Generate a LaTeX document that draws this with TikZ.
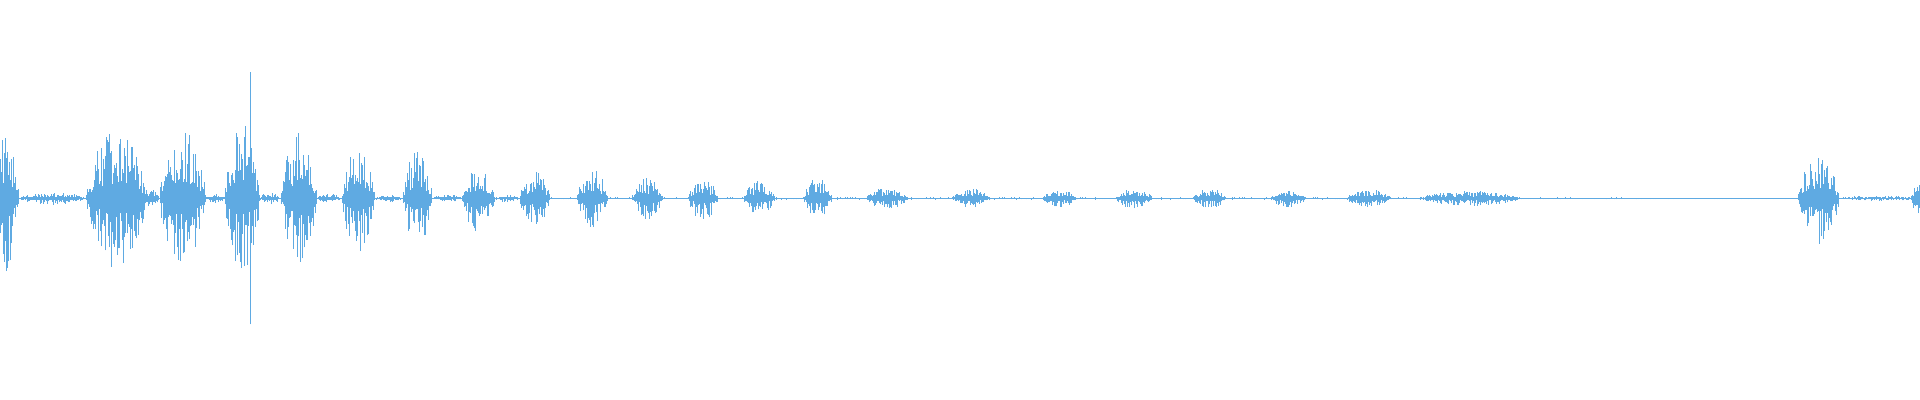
\documentclass[tikz,border=0pt]{standalone}
\definecolor{wave}{RGB}{95,170,226}
\tikzset{wv/.style={draw=wave,line width=0.3pt}}
\newcommand{\burst}[4]{% x0 x1 amp step
  \pgfmathsetmacro\bnx{#1+#4}
  \foreach \i in {#1,\bnx,...,#2}{
    \pgfmathsetmacro\bf{(\i-#1)/(#2-#1)}
    \pgfmathsetmacro\bs{sin(180*\bf)^0.7}
    \pgfmathsetmacro\ht{#3*\bs*(0.2+0.8*rnd^2)+0.3}
    \pgfmathsetmacro\hb{#3*\bs*(0.2+0.8*rnd^2)+0.3}
    \draw[wv] (\i,164.6-\hb) -- (\i,164.6+\ht);
  }}
\begin{document}
\begin{tikzpicture}[x=1.2245pt,y=1.2245pt]
\useasboundingbox (0,0) rectangle (1568,326.6);
\pgfmathsetseed{7}
\draw[wv] (0,164.6) -- (1568,164.6);
\burst{0.01}{1568}{0.8}{2}
\burst{-8}{15}{62}{0.5}
\burst{15}{70}{5}{0.7}
\burst{70}{120}{58}{0.5}
\burst{118}{130}{8}{0.6}
\burst{130}{168}{56}{0.5}
\burst{168}{183}{4}{0.7}
\burst{183}{212}{62}{0.5}
\draw[wv] (204,164.6-103) -- (204,164.6+103);
\burst{212}{228}{5}{0.7}
\burst{229}{259}{55}{0.5}
\burst{259}{278}{4}{0.7}
\burst{279}{306}{45}{0.5}
\burst{306}{328}{3}{0.7}
\burst{329}{353}{40}{0.5}
\burst{353}{377}{3}{0.7}
\burst{377}{404}{28}{0.5}
\burst{404}{424}{3}{0.7}
\burst{424}{449}{22}{0.5}
\burst{471}{496}{24}{0.5}
\burst{516}{541}{17}{0.5}
\burst{562}{586}{18}{0.5}
\burst{607}{633}{15}{0.5}
\burst{656}{679}{17}{0.5}
\burst{707}{741}{9}{0.5}
\burst{777}{809}{8}{0.5}
\burst{851}{879}{7}{0.5}
\burst{911}{941}{8}{0.5}
\burst{974}{1001}{8}{0.5}
\burst{1037}{1066}{7}{0.5}
\burst{1099}{1136}{7}{0.5}
\burst{1158}{1242}{6}{0.5}
\burst{1468}{1502}{38}{0.5}
\burst{1502}{1568}{2}{0.8}
\burst{1560}{1572}{12}{0.5}
\end{tikzpicture}
\end{document}
